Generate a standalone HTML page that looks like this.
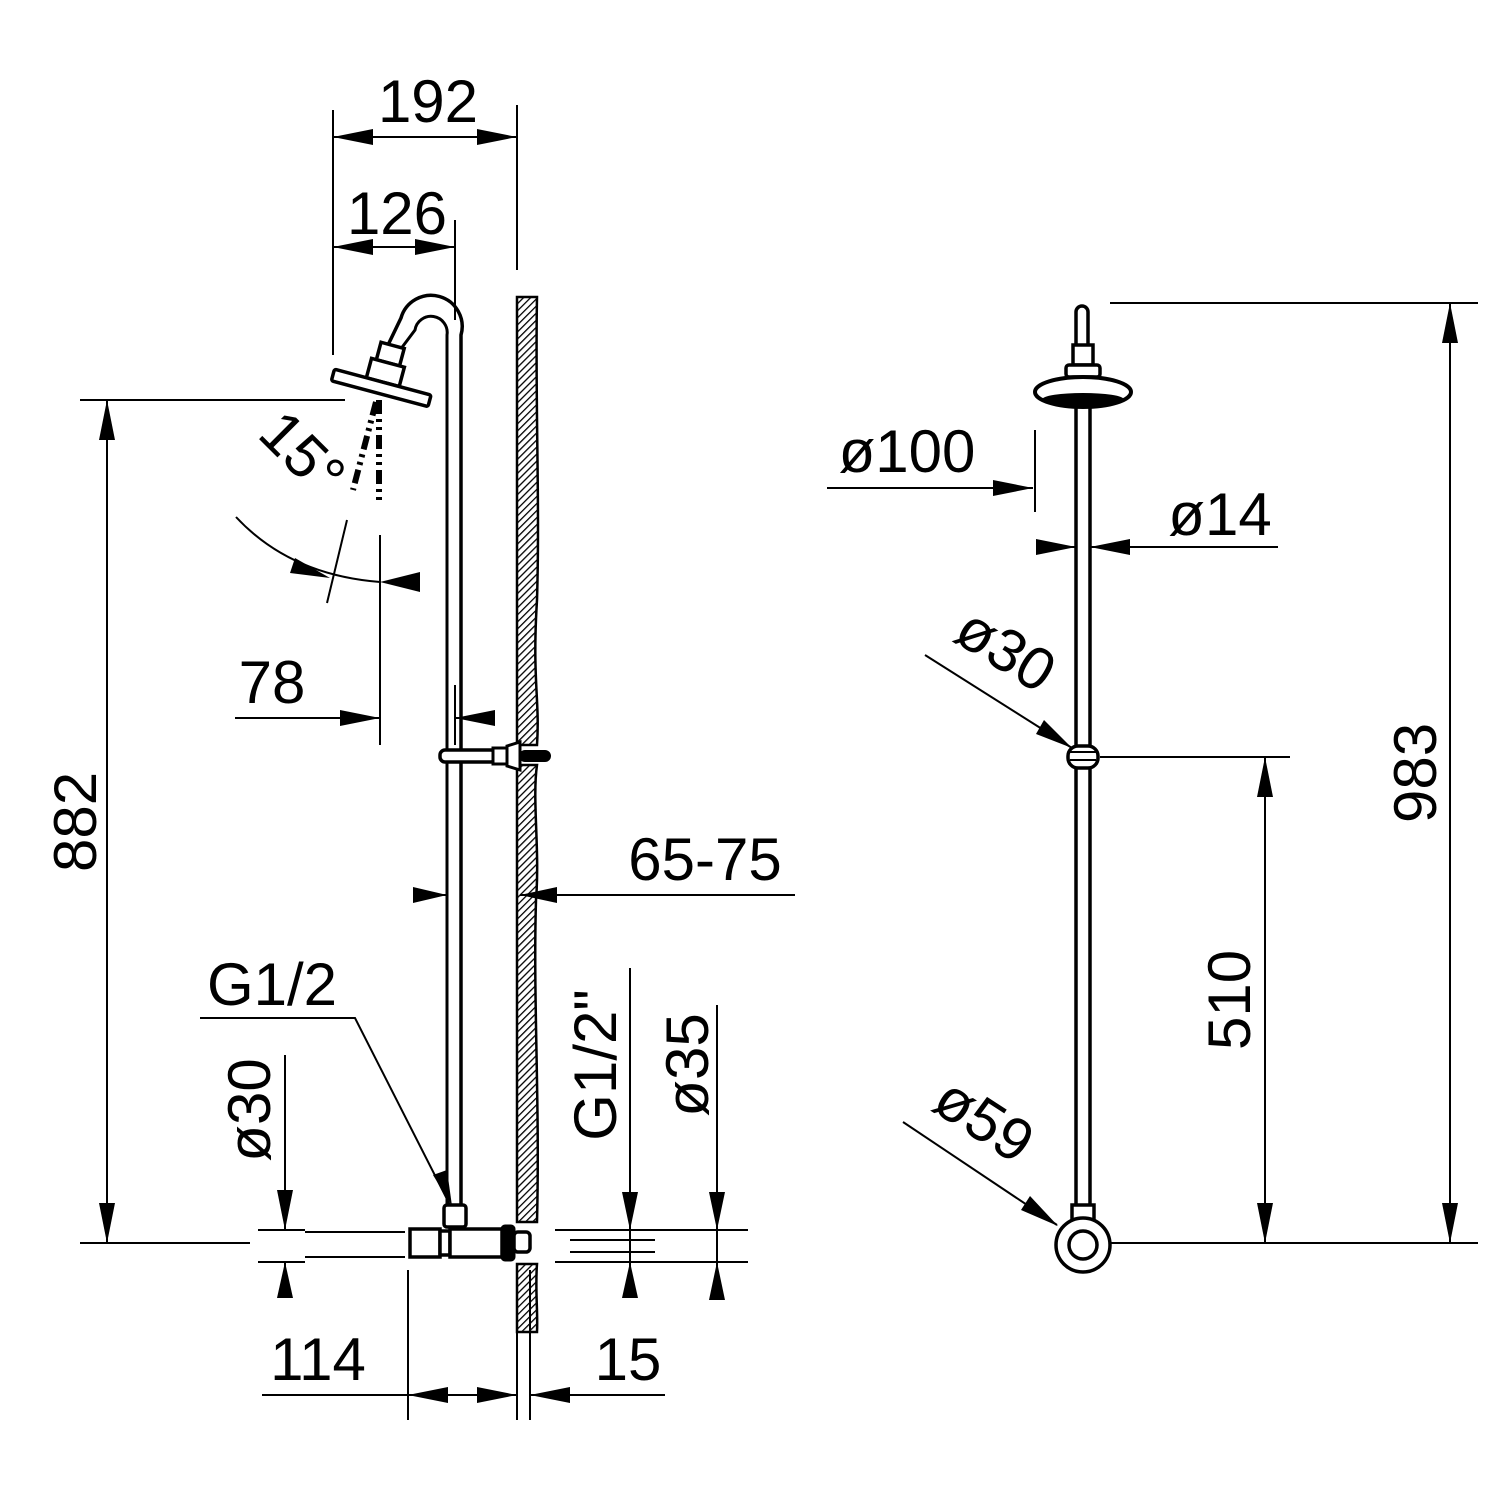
<!DOCTYPE html>
<html><head><meta charset="utf-8"><style>
html,body{margin:0;padding:0;background:#fff;}
svg{display:block;}
text{font-family:"Liberation Sans",Arial,sans-serif;font-size:60px;fill:#000;}
</style></head><body>
<svg width="1500" height="1500" viewBox="0 0 1500 1500" xmlns="http://www.w3.org/2000/svg">
<defs>
<pattern id="h" width="5" height="5" patternUnits="userSpaceOnUse" patternTransform="rotate(45)">
<rect width="5" height="5" fill="#fff"/><line x1="0" y1="0" x2="0" y2="5" stroke="#000" stroke-width="2.6"/>
</pattern>
</defs>
<g stroke="#000" fill="none" stroke-width="2">
<line x1="333" y1="110" x2="333" y2="355"/>
<line x1="517" y1="105" x2="517" y2="270"/>
<line x1="333" y1="137" x2="517" y2="137"/>
<line x1="455" y1="220" x2="455" y2="320"/>
<line x1="333" y1="247" x2="455" y2="247"/>
<line x1="80" y1="400" x2="345" y2="400"/>
<line x1="80" y1="1243" x2="250" y2="1243"/>
<line x1="107" y1="400" x2="107" y2="1243"/>
<path d="M517 297 L537 297 C535 400 540 500 537 600 C532 680 540 700 537 745 L517 745 Z" fill="url(#h)" stroke-width="2.5"/>
<path d="M517 765 L537 765 C532 800 540 850 536 900 C533 1000 540 1100 537 1222 L517 1222 Z" fill="url(#h)" stroke-width="2.5"/>
<path d="M517 1264 L537 1264 C535 1290 538 1310 537 1332 L517 1332 Z" fill="url(#h)" stroke-width="2.5"/>
<line x1="517" y1="1332" x2="517" y2="1420"/>
<line x1="530" y1="1270" x2="530" y2="1420"/>
<path d="M447 1205 L447 335 A16 16 0 0 0 415 330 L400 350" stroke-width="3"/>
<path d="M461 1205 L461 335 A30 30 0 0 0 401 318 L388 345" stroke-width="3.5"/>
<g transform="rotate(15 382 385)" stroke-width="3.5">
<rect x="370" y="344" width="24" height="18" fill="#fff"/>
<rect x="365" y="362" width="34" height="20" fill="#fff"/>
<rect x="332" y="382" width="100" height="12" fill="#fff" rx="2"/>
</g>
<line x1="379" y1="400" x2="379" y2="505" stroke-width="6" stroke-dasharray="14 5 3 5 3 5"/>
<line x1="376" y1="402" x2="353" y2="490" stroke-width="6" stroke-dasharray="14 5 3 5 3 5"/>
<path d="M236 517 Q290 575 380 582" stroke-width="2"/>
<line x1="347" y1="520" x2="327" y2="603"/>
<line x1="380" y1="535" x2="380" y2="745"/>
<line x1="235" y1="718" x2="380" y2="718"/>
<line x1="455" y1="685" x2="455" y2="745"/>
<line x1="455" y1="718" x2="495" y2="718"/>
<rect x="440" y="750" width="56" height="12" rx="5" fill="#fff" stroke-width="3.5"/>
<rect x="493" y="748" width="14" height="16" fill="#fff" stroke-width="3"/>
<path d="M507 746 L520 742 L520 770 L507 766 Z" fill="#fff" stroke-width="3"/>
<rect x="520" y="751" width="30" height="10" rx="5" fill="#000"/>
<line x1="413" y1="895" x2="447" y2="895"/>
<line x1="520" y1="895" x2="795" y2="895"/>
<polyline points="200,1018 355,1018 450,1205"/>
<rect x="444" y="1205" width="22" height="22" rx="3" fill="#fff" stroke-width="3.5"/>
<rect x="410" y="1229" width="30" height="28" fill="#fff" stroke-width="3.5"/>
<rect x="440" y="1231" width="10" height="24" fill="#fff" stroke-width="3.5"/>
<rect x="450" y="1229" width="52" height="28" fill="#fff" stroke-width="3.5"/>
<rect x="502" y="1226" width="12" height="34" fill="#000" stroke-width="3" rx="3"/>
<rect x="514" y="1232" width="16" height="20" rx="4" fill="#fff" stroke-width="3.5"/>
<line x1="258" y1="1230" x2="305" y2="1230"/>
<line x1="258" y1="1262" x2="305" y2="1262"/>
<line x1="305" y1="1232" x2="405" y2="1232"/>
<line x1="305" y1="1257" x2="405" y2="1257"/>
<line x1="285" y1="1055" x2="285" y2="1230"/>
<line x1="285" y1="1262" x2="285" y2="1298"/>
<line x1="408" y1="1270" x2="408" y2="1420"/>
<line x1="262" y1="1395" x2="517" y2="1395"/>
<line x1="530" y1="1395" x2="665" y2="1395"/>
<line x1="555" y1="1230" x2="748" y2="1230"/>
<line x1="555" y1="1262" x2="748" y2="1262"/>
<line x1="570" y1="1240" x2="655" y2="1240"/>
<line x1="570" y1="1252" x2="655" y2="1252"/>
<line x1="630" y1="968" x2="630" y2="1295"/>
<line x1="717" y1="1005" x2="717" y2="1300"/>
<line x1="1110" y1="303" x2="1478" y2="303"/>
<line x1="1100" y1="1243" x2="1478" y2="1243"/>
<line x1="1450" y1="303" x2="1450" y2="1243"/>
<line x1="1100" y1="757" x2="1290" y2="757"/>
<line x1="1265" y1="757" x2="1265" y2="1243"/>
<line x1="827" y1="488" x2="1033" y2="488"/>
<line x1="1035" y1="430" x2="1035" y2="512"/>
<line x1="1037" y1="547" x2="1076" y2="547"/>
<line x1="1090" y1="547" x2="1278" y2="547"/>
<line x1="925" y1="655" x2="1072" y2="748"/>
<line x1="903" y1="1122" x2="1057" y2="1225"/>
<line x1="1076" y1="405" x2="1076" y2="1210" stroke-width="3.5"/>
<line x1="1090" y1="405" x2="1090" y2="1210" stroke-width="3.5"/>
<path d="M1076 345 L1076 312 A6 6 0 0 1 1088 312 L1088 345" fill="#fff" stroke-width="3.5"/>
<rect x="1073" y="345" width="20" height="20" fill="#fff" stroke-width="3.5"/>
<rect x="1066" y="365" width="34" height="12" rx="3" fill="#fff" stroke-width="3.5"/>
<ellipse cx="1083" cy="392" rx="48" ry="15" fill="#fff" stroke-width="4"/>
<ellipse cx="1083" cy="400" rx="40" ry="6" fill="#000" stroke-width="2"/>
<rect x="1068" y="746" width="30" height="22" rx="10" fill="#fff" stroke-width="3.5"/>
<line x1="1070" y1="752" x2="1096" y2="752"/>
<line x1="1070" y1="760" x2="1096" y2="760"/>
<rect x="1072" y="1205" width="22" height="20" fill="#fff" stroke-width="3.5"/>
<circle cx="1083" cy="1245" r="27" fill="#fff" stroke-width="3.5"/>
<circle cx="1083" cy="1245" r="14" stroke-width="3.5"/>
</g>
<g fill="#000">
<polygon points="333,137 373,129 373,145"/>
<polygon points="517,137 477,129 477,145"/>
<polygon points="333,247 373,239 373,255"/>
<polygon points="455,247 415,239 415,255"/>
<polygon points="107,400 99,440 115,440"/>
<polygon points="107,1243 99,1203 115,1203"/>
<polygon points="330,578 290,573 295,558"/>
<polygon points="380,582 420,572 420,592"/>
<polygon points="380,718 340,710 340,726"/>
<polygon points="455,718 495,710 495,726"/>
<polygon points="447,895 413,887 413,903"/>
<polygon points="520,895 557,887 557,903"/>
<polygon points="452,1206 433,1175 447,1170"/>
<polygon points="285,1230 277,1190 293,1190"/>
<polygon points="285,1262 277,1298 293,1298"/>
<polygon points="408,1395 448,1387 448,1403"/>
<polygon points="517,1395 477,1387 477,1403"/>
<polygon points="530,1395 570,1387 570,1403"/>
<polygon points="630,1230 622,1192 638,1192"/>
<polygon points="630,1262 622,1298 638,1298"/>
<polygon points="717,1230 709,1192 725,1192"/>
<polygon points="717,1262 709,1300 725,1300"/>
<polygon points="1450,303 1442,343 1458,343"/>
<polygon points="1450,1243 1442,1203 1458,1203"/>
<polygon points="1265,757 1257,797 1273,797"/>
<polygon points="1265,1243 1257,1203 1273,1203"/>
<polygon points="1033,488 993,480 993,496"/>
<polygon points="1076,547 1036,539 1036,555"/>
<polygon points="1090,547 1130,539 1130,555"/>
<polygon points="1072,748 1044,720 1036,734"/>
<polygon points="1058,1226 1030,1196 1021,1210"/>
</g>
<text x="428" y="122" text-anchor="middle">192</text>
<text x="397" y="234" text-anchor="middle">126</text>
<text transform="translate(96,822) rotate(-90)" text-anchor="middle">882</text>
<text transform="translate(288,468) rotate(45)" text-anchor="middle">15°</text>
<text x="272" y="703" text-anchor="middle">78</text>
<text x="705" y="880" text-anchor="middle">65-75</text>
<text x="272" y="1005" text-anchor="middle">G1/2</text>
<text transform="translate(270,1110) rotate(-90)" text-anchor="middle">ø30</text>
<text transform="translate(616,1065) rotate(-90)" text-anchor="middle">G1/2"</text>
<text transform="translate(708,1065) rotate(-90)" text-anchor="middle">ø35</text>
<text x="318" y="1380" text-anchor="middle">114</text>
<text x="628" y="1380" text-anchor="middle">15</text>
<text x="907" y="472" text-anchor="middle">ø100</text>
<text x="1220" y="535" text-anchor="middle">ø14</text>
<text transform="translate(995,667) rotate(32)" text-anchor="middle">ø30</text>
<text transform="translate(973,1137) rotate(33)" text-anchor="middle">ø59</text>
<text transform="translate(1436,773) rotate(-90)" text-anchor="middle">983</text>
<text transform="translate(1250,1000) rotate(-90)" text-anchor="middle">510</text>
</svg>
</body></html>
